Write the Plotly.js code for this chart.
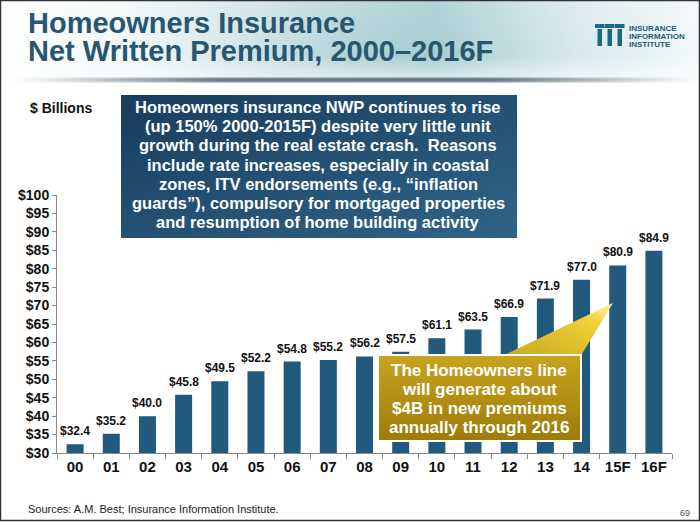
<!DOCTYPE html>
<html>
<head>
<meta charset="utf-8">
<script src="https://cdn.plot.ly/plotly-3.0.1.min.js"></script>
<style>html,body{margin:0;padding:0;background:#fff;}#chart{width:700px;height:522px;}</style>
</head>
<body>
<div id="chart"></div>
<script>
// ---- data ----
const categories = ['00','01','02','03','04','05','06','07','08','09','10','11','12','13','14','15F','16F'];
const premiums = [32.4,35.2,40.0,45.8,49.5,52.2,54.8,55.2,56.2,57.5,61.1,63.5,66.9,71.9,77.0,80.9,84.9];
const yTickValues = [30,35,40,45,50,55,60,65,70,75,80,85,90,95,100];
const yTickLabels = ['$30','$35','$40','$45','$50','$55','$60','$65','$70','$75','$80','$85','$90','$95','$100'];
const titleLines = ['Homeowners Insurance','Net Written Premium, 2000\u20132016F'];
const noteLines = ['Homeowners insurance NWP continues to rise','(up 150% 2000-2015F) despite very little unit','growth during the real estate crash.  Reasons','include rate increases, especially in coastal','zones, ITV endorsements (e.g., \u201cinflation','guards\u201d), compulsory for mortgaged properties','and resumption of home building activity'];
const calloutLines = ['The Homeowners line','will generate about','$4B in new premiums','annually through 2016'];
const logoLines = ['INSURANCE','INFORMATION','INSTITUTE'];
const sourceText = 'Sources: A.M. Best; Insurance Information Institute.';
const pageNumber = '69';

// ---- layout geometry ----
const FW = 700, FH = 522;
const M = {l:57, r:28, t:195, b:69};
const PW = FW - M.l - M.r, PH = FH - M.t - M.b;
const PX = x => (x - M.l) / PW;
const PY = y => (FH - M.b - y) / PH;

const FONT = 'Liberation Sans, Arial, sans-serif';

const bgSvg = `<svg xmlns='http://www.w3.org/2000/svg' width='700' height='522' viewBox='0 0 700 522'>
<defs>
<linearGradient id='hg' x1='0' y1='0' x2='1' y2='0'>
<stop offset='0' stop-color='#ffffff'/><stop offset='0.18' stop-color='#f3f8f9'/>
<stop offset='0.5' stop-color='#b3d3d8'/><stop offset='0.62' stop-color='#a6ccd2'/>
<stop offset='0.82' stop-color='#d6e9ec'/><stop offset='1' stop-color='#f4f9fa'/>
</linearGradient>
<linearGradient id='vg' x1='0' y1='0' x2='0' y2='1'>
<stop offset='0' stop-color='#ffffff' stop-opacity='0.15'/><stop offset='0.7' stop-color='#ffffff' stop-opacity='0'/><stop offset='1' stop-color='#ffffff' stop-opacity='0.6'/>
</linearGradient>
<linearGradient id='sg' x1='0' y1='0' x2='1' y2='0'>
<stop offset='0' stop-color='#2f4b58' stop-opacity='0'/><stop offset='0.3' stop-color='#2f4b58' stop-opacity='0.9'/>
<stop offset='0.7' stop-color='#2f4b58' stop-opacity='0.9'/><stop offset='1' stop-color='#2f4b58' stop-opacity='0'/>
</linearGradient>
<linearGradient id='bg' x1='0' y1='0' x2='1' y2='1'>
<stop offset='0' stop-color='#183d5e'/><stop offset='1' stop-color='#2f6489'/>
</linearGradient>
<filter id='bl'><feGaussianBlur stdDeviation='1.5'/></filter>
</defs>
<rect x='0' y='0' width='700' height='80' fill='url(#hg)'/>
<rect x='0' y='0' width='700' height='80' fill='url(#vg)'/>
<rect x='15' y='78' width='680' height='4' fill='url(#sg)' filter='url(#bl)'/>
<rect x='121' y='95' width='396' height='143' fill='url(#bg)'/>
</svg>`;

const fgSvg = `<svg xmlns='http://www.w3.org/2000/svg' width='700' height='522' viewBox='0 0 700 522'>
<defs>
<linearGradient id='cg' x1='0' y1='0' x2='0' y2='1'>
<stop offset='0' stop-color='#c8a41f'/><stop offset='1' stop-color='#9d7b08'/>
</linearGradient>
<linearGradient id='wg' x1='0' y1='1' x2='1' y2='0'>
<stop offset='0' stop-color='#c9a51d'/><stop offset='0.75' stop-color='#f0d23a'/><stop offset='1' stop-color='#fff6c0'/>
</linearGradient>
</defs>
<polygon points='500,357 613,303 580,357' fill='url(#wg)'/>
<rect x='378' y='355' width='203' height='86' fill='url(#cg)' stroke='#ffffff' stroke-width='2'/>
</svg>`;

const toUri = s => 'data:image/svg+xml;charset=utf-8,' + encodeURIComponent(s);
const fullImg = (src, layer) => ({
  source: toUri(src), xref:'paper', yref:'paper',
  x: PX(0), y: PY(0), sizex: FW/PW, sizey: FH/PH,
  xanchor:'left', yanchor:'top', sizing:'stretch', layer: layer
});

const trace = {
  type:'bar', x: categories, y: premiums,
  marker:{color:'#215a7d'},
  hoverinfo:'skip'
};

const annotations = [];
// value labels above bars (from the data arrays, positioned by the axes)
categories.forEach((c,i) => annotations.push({
  text:'$' + premiums[i].toFixed(1), x:c, y:premiums[i], xref:'x', yref:'y',
  xanchor:'center', yanchor:'bottom', yshift:4, showarrow:false,
  font:{family:FONT, size:12, color:'#111', weight:'bold'}
}));
// title
titleLines.forEach((t,i) => annotations.push({
  text:t, xref:'paper', yref:'paper', x:PX(26), y:PY(23 + i*28), xanchor:'left', yanchor:'middle',
  showarrow:false, font:{family:FONT, size:29, color:'#285670', weight:'bold'}
}));
// logo text
logoLines.forEach((t,i) => annotations.push({
  text:t, xref:'paper', yref:'paper', x:PX(627), y:PY(28 + i*8), xanchor:'left', yanchor:'middle',
  showarrow:false, font:{family:FONT, size:8, color:'#1c5e7c', weight:'bold'}
}));
// $ Billions
annotations.push({text:'$ Billions', xref:'paper', yref:'paper', x:PX(61), y:PY(108), xanchor:'center', yanchor:'middle',
  showarrow:false, font:{family:FONT, size:14, color:'#111', weight:'bold'}});
// note box text
noteLines.forEach((t,i) => annotations.push({
  text:t, xref:'paper', yref:'paper', x:PX(318), y:PY(107 + i*19.2), xanchor:'center', yanchor:'middle',
  showarrow:false, font:{family:FONT, size:16.5, color:'#ffffff', weight:'bold'}
}));
// callout text
calloutLines.forEach((t,i) => annotations.push({
  text:t, xref:'paper', yref:'paper', x:PX(479), y:PY(370 + i*19), xanchor:'center', yanchor:'middle',
  showarrow:false, font:{family:FONT, size:17, color:'#ffffff', weight:'bold'}
}));
// footer
annotations.push({text:sourceText, xref:'paper', yref:'paper', x:PX(26), y:PY(509), xanchor:'left', yanchor:'middle',
  showarrow:false, font:{family:FONT, size:11, color:'#222'}});
annotations.push({text:pageNumber, xref:'paper', yref:'paper', x:PX(692), y:PY(513), xanchor:'right', yanchor:'middle',
  showarrow:false, font:{family:FONT, size:9, color:'#555'}});

const shapes = [];
// logo icon: three columns with caps
for (let i = 0; i < 3; i++) {
  const x0 = 596 + i*10;
  shapes.push({type:'rect', xref:'paper', yref:'paper', x0:PX(x0+1.5), x1:PX(x0+6), y0:PY(46), y1:PY(29),
    fillcolor:'#1a6a86', line:{width:0}});
  shapes.push({type:'rect', xref:'paper', yref:'paper', x0:PX(x0-1), x1:PX(x0+8.5), y0:PY(28), y1:PY(24),
    fillcolor:'#1a6a86', line:{width:0}});
}
// page frame
shapes.push({type:'rect', xref:'paper', yref:'paper', x0:PX(0.5), x1:PX(699.5), y0:PY(520.5), y1:PY(0.5),
  fillcolor:'rgba(0,0,0,0)', line:{color:'#333', width:1.5}, layer:'above'});

const layout = {
  width:FW, height:FH, margin:M,
  paper_bgcolor:'#ffffff', plot_bgcolor:'rgba(0,0,0,0)',
  showlegend:false, bargap:0.53,
  font:{family:FONT},
  xaxis:{type:'category', showline:true, linecolor:'#8a8a8a', linewidth:1, ticks:'outside', tickson:'boundaries',
    ticklen:5, tickcolor:'#8a8a8a', showgrid:false, zeroline:false,
    tickfont:{family:FONT, size:15, color:'#111', weight:'bold'}},
  yaxis:{range:[30,100], tickvals:yTickValues, ticktext:yTickLabels, showline:true, linecolor:'#8a8a8a', linewidth:1,
    ticks:'outside', ticklen:4, tickcolor:'#8a8a8a', showgrid:false, zeroline:false,
    tickfont:{family:FONT, size:14, color:'#111', weight:'bold'}},
  images:[fullImg(bgSvg,'below'), fullImg(fgSvg,'above')],
  annotations:annotations, shapes:shapes
};

Plotly.newPlot('chart', [trace], layout, {staticPlot:true, displayModeBar:false});
</script>
</body>
</html>
